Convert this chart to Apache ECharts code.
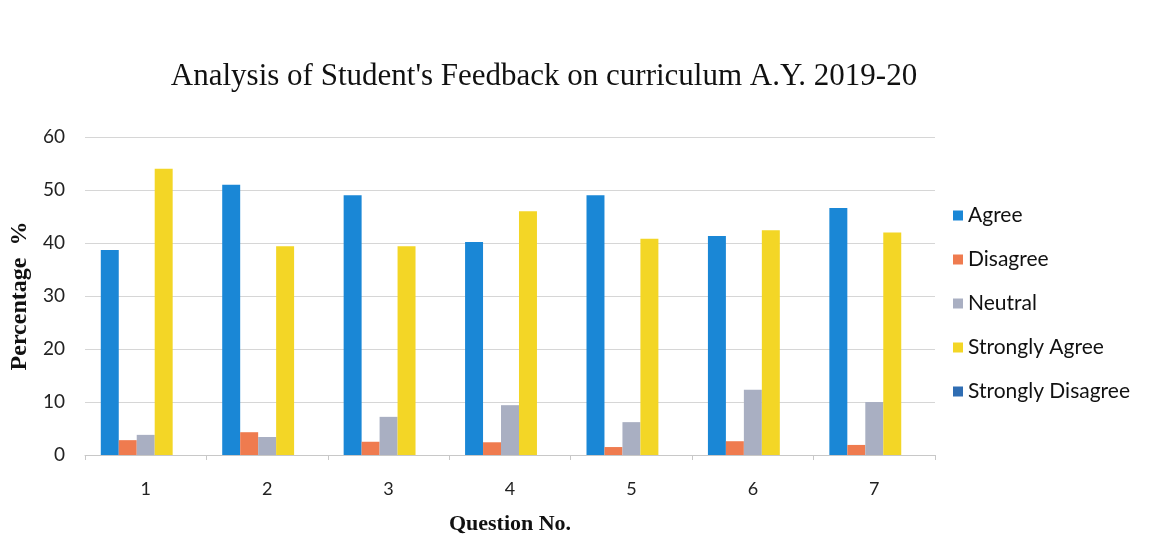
<!DOCTYPE html>
<html>
<head>
<meta charset="UTF-8">
<title>Student Feedback</title>
<script src="https://cdn.jsdelivr.net/npm/echarts@6/dist/echarts.min.js"></script>
</head>
<body style="margin:0;background:#fff;">
<div id="main" style="width:1154px;height:534px;"></div>
<script type="text/javascript">
// questions on the x axis
var questions = ['1', '2', '3', '4', '5', '6', '7'];
var seriesNames = ['Agree', 'Disagree', 'Neutral', 'Strongly Agree', 'Strongly Disagree'];
// percentages
var agree = [38.7, 51.0, 49.0, 40.2, 49.0, 41.3, 46.6];
var disagree = [2.8, 4.3, 2.5, 2.4, 1.5, 2.6, 1.9];
var neutral = [3.8, 3.4, 7.2, 9.4, 6.2, 12.3, 10.0];
var stronglyAgree = [54.0, 39.4, 39.4, 46.0, 40.8, 42.4, 42.0];
var stronglyDisagree = [0, 0, 0, 0, 0, 0, 0];
var yTicks = [0, 10, 20, 30, 40, 50, 60];

var colors = ['#1a87d6', '#ef7b4f', '#a9afc2', '#f3d626', '#2f6db3'];
var allData = [agree, disagree, neutral, stronglyAgree, stronglyDisagree];

var chart = echarts.init(document.getElementById('main'));

var series = seriesNames.map(function (n, i) {
  return {
    name: n,
    type: 'bar',
    data: allData[i],
    barGap: '0%',
    barCategoryGap: '26%',
    itemStyle: { color: colors[i] }
  };
});

chart.setOption({
  animation: false,
  color: colors,
  title: {
    text: "Analysis of Student's Feedback on curriculum A.Y. 2019-20",
    left: 539,
    textAlign: 'center',
    top: 56,
    textStyle: { fontFamily: 'Liberation Serif', fontWeight: 'normal', fontSize: 31, color: '#111' }
  },
  legend: {
    orient: 'vertical',
    left: 948,
    top: 200,
    itemWidth: 10,
    itemHeight: 10,
    itemGap: 23,
    icon: 'rect',
    data: seriesNames,
    textStyle: { fontFamily: 'Lato', fontSize: 21, color: '#111' }
  },
  grid: { left: 85, right: 219, top: 137, bottom: 79, outerBoundsMode: 'none', containLabel: false },
  xAxis: {
    type: 'category',
    data: questions,
    name: 'Question No.',
    nameLocation: 'middle',
    nameGap: 58,
    nameTextStyle: { fontFamily: 'Liberation Serif', fontWeight: 'bold', fontSize: 22, color: '#111' },
    axisLine: { lineStyle: { color: '#c8c8c8' } },
    axisTick: { show: true, lineStyle: { color: '#c8c8c8' }, length: 5 },
    axisLabel: { fontFamily: 'Lato', fontSize: 18, color: '#222', margin: 25 }
  },
  yAxis: {
    type: 'value',
    min: yTicks[0],
    max: yTicks[yTicks.length - 1],
    interval: 10,
    name: 'Percentage  %',
    nameLocation: 'middle',
    nameGap: 46,
    nameTextStyle: { fontFamily: 'Liberation Serif', fontWeight: 'bold', fontSize: 24, color: '#111' },
    axisLine: { show: false },
    axisTick: { show: false },
    splitLine: { lineStyle: { color: '#d6d6d6' } },
    axisLabel: { fontFamily: 'Lato', fontSize: 19, color: '#222', margin: 20 }
  },
  series: series
});
</script>
</body>
</html>
